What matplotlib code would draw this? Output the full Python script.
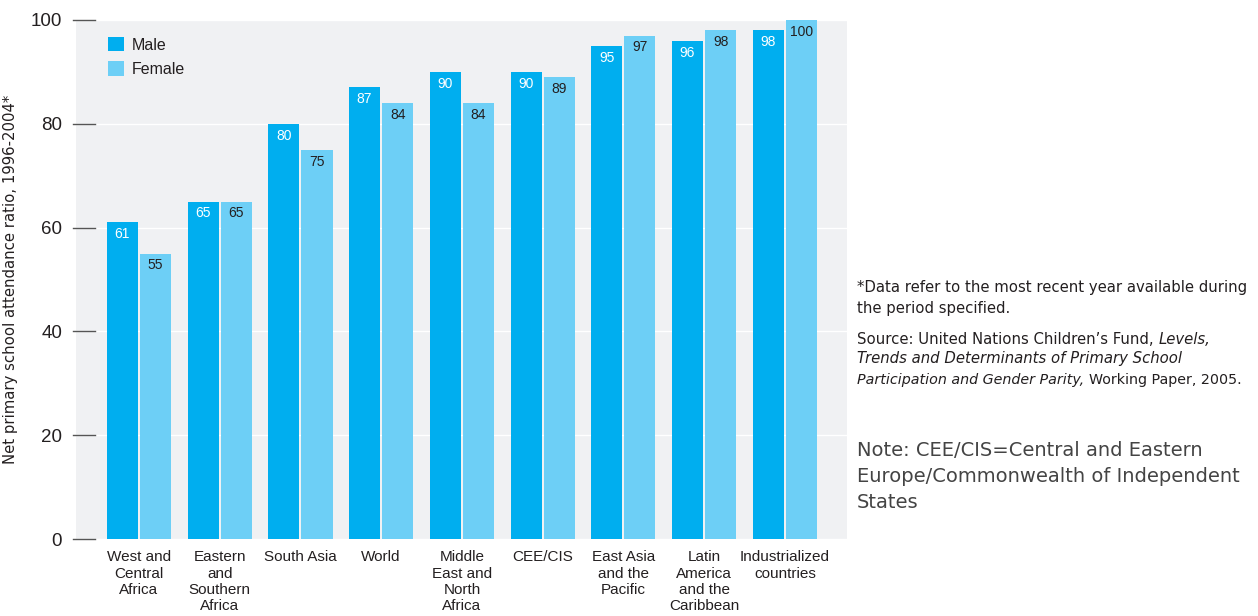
import numpy as np
import matplotlib
matplotlib.use("Agg")
import matplotlib.pyplot as plt

# ----------------------------
# Data
# ----------------------------
regions = ["West and\nCentral\nAfrica", "Eastern\nand\nSouthern\nAfrica", "South Asia", "World",
           "Middle\nEast and\nNorth\nAfrica", "CEE/CIS", "East Asia\nand the\nPacific",
           "Latin\nAmerica\nand the\nCaribbean", "Industrialized\ncountries"]
male   = [61, 65, 80, 87, 90, 90, 95, 96, 98]
female = [55, 65, 75, 84, 84, 89, 97, 98, 100]
yticks = [0, 20, 40, 60, 80, 100]

MALE_C   = "#00AEEF"
FEMALE_C = "#6DCFF6"
BG       = "#F0F1F3"
TXT      = "#231F20"
NOTE_C   = "#444444"

plt.rcParams["font.family"] = ["Liberation Sans", "DejaVu Sans"]

W, H = 1258, 616
fig = plt.figure(figsize=(W / 100, H / 100), dpi=100)
ax = fig.add_axes([76 / W, (H - 539) / H, (847 - 76) / W, (539 - 20) / H])
ax.set_facecolor(BG)

x = np.arange(len(regions))
bw = 0.385
off = 0.205
b1 = ax.bar(x - off, male, bw, color=MALE_C, zorder=3, label="Male")
b2 = ax.bar(x + off, female, bw, color=FEMALE_C, zorder=3, label="Female")

for bars, vals, col in [(b1, male, "white"), (b2, female, TXT)]:
    for r, v in zip(bars, vals):
        ax.annotate(str(v), (r.get_x() + r.get_width() / 2, v), xytext=(0, -8.5),
                    textcoords="offset points", ha="center", va="center",
                    fontsize=10, color=col, zorder=4)

ax.set_xlim(-0.78, 8.77)
ax.set_ylim(0, 100)
ax.set_yticks(yticks)
ax.set_yticklabels([str(t) for t in yticks], fontsize=13.5, color=TXT)
ax.tick_params(axis="y", length=0, pad=10)
ax.tick_params(axis="x", length=0, pad=8)
ax.set_xticks(x)
ax.set_xticklabels(regions, fontsize=11, color=TXT, linespacing=1.22,
                   family=["Liberation Sans Narrow", "Liberation Sans", "DejaVu Sans"])
for t in yticks:
    ax.axhline(t, color="white", lw=1, zorder=1)
    ax.axhline(t, xmin=-0.004, xmax=0.025, color="#555555", lw=1, zorder=2, clip_on=False)
for s in ax.spines.values():
    s.set_visible(False)

ax.set_ylabel("Net primary school attendance ratio, 1996-2004*", fontsize=10.7, color=TXT,
              family=["DejaVu Sans"])
ax.yaxis.set_label_coords(-0.075, 0.5)

ax.legend(loc="upper left", bbox_to_anchor=(0.023, 0.995), frameon=False, fontsize=11.5,
          handlelength=1.0, handleheight=1.0, handletextpad=0.45, labelspacing=0.55,
          labelcolor=TXT)

# ----------------------------
# Notes
# ----------------------------
nx = 857 / W
NFONT = ["DejaVu Sans"]
NS = 10.7


def note_line(y, parts, size=NS, color=TXT):
    # parts: list of (text, style), placed one after another
    r = fig.canvas.get_renderer()
    xpos = nx
    for txt, st in parts:
        t = fig.text(xpos, 1 - y / H, txt, fontsize=size, color=color, va="center",
                     style=st, family=NFONT)
        bb = t.get_window_extent(renderer=r)
        xpos = (bb.x1) / W


note_line(288, [("*Data refer to the most recent year available during", "normal")])
note_line(309, [("the period specified.", "normal")])
note_line(339, [("Source: United Nations Children\u2019s Fund, ", "normal"), ("Levels,", "italic")])
note_line(359, [("Trends and Determinants of Primary School", "italic")])
note_line(380, [("Participation and Gender Parity, ", "italic"), ("Working Paper, 2005.", "normal")], size=10.3)
note_line(450, [("Note: CEE/CIS=Central and Eastern", "normal")], size=14.0, color=NOTE_C)
note_line(477, [("Europe/Commonwealth of Independent", "normal")], size=14.0, color=NOTE_C)
note_line(503, [("States", "normal")], size=14.0, color=NOTE_C)

fig.savefig("out.png", dpi=100)
